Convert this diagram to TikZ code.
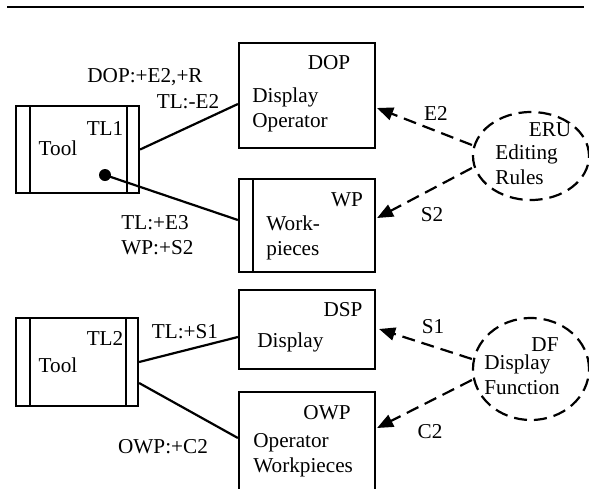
\documentclass[tikz,border=0pt]{standalone}
\usepackage{fontspec}
\setmainfont{Liberation Serif}
\usetikzlibrary{arrows.meta,calc,shapes.geometric,positioning}

\tikzset{
  box/.style={draw, line width=1.1pt, inner sep=0pt, minimum width=68pt},
  bars/.style={path picture={
    \draw[line width=1.1pt] ($(path picture bounding box.north west)+(14,0)$) -- ($(path picture bounding box.south west)+(14,0)$);
    \draw[line width=1.1pt] ($(path picture bounding box.north east)+(-12,0)$) -- ($(path picture bounding box.south east)+(-12,0)$);}},
  lbar/.style={path picture={
    \draw[line width=1.1pt] ($(path picture bounding box.north west)+(14,0)$) -- ($(path picture bounding box.south west)+(14,0)$);}},
  rule/.style={draw, dashed, line width=1.1pt, dash pattern=on 6.5pt off 3.5pt, ellipse, minimum width=58pt, inner sep=0pt},
  link/.style={line width=1.1pt},
  msg/.style={line width=1.1pt, dash pattern=on 6.5pt off 3.5pt, -{Triangle[length=8pt,width=6.5pt]}},
}

\begin{document}
\begin{tikzpicture}[x=0.5pt, y=-0.5pt, every node/.append style={font=\fontsize{10.6}{12.5}\selectfont}]
\useasboundingbox (0,0) rectangle (589,488);

% heading rule
\draw[line width=1.1pt] (7,7) -- (584,7);

% upper part
\node[box, bars, minimum width=61.5pt, minimum height=43.5pt] (TL1) at (77.5,149.5) {};
\node at (105,128) {TL1};
\node at (58,148) {Tool};
\node[circle, fill, inner sep=0pt, minimum size=6pt] (dot) at (105,175) {};

\node[box, minimum height=52.5pt] (DOP) at (307,95.5) {};
\node at (329,63) {DOP};
\node[anchor=west, align=left, inner sep=0pt] at (252,110) {Display\\Operator};

\node[box, lbar, minimum height=46.5pt] (WP) at (307,225.5) {};
\node at (347,200) {WP};
\node[anchor=west, align=left, inner sep=0pt] at (266,238) {Work-\\pieces};

\node[rule, minimum height=44pt] (ERU) at (531,156) {};
\node at (550,130) {ERU};
\node[anchor=west, align=left, inner sep=0pt] at (495,165) {Editing\\Rules};

\draw[link] (TL1.east) -- ($(DOP.west)+(0,8.5)$);
\draw[link] (dot.center) -- ($(WP.west)+(0,-5.5)$);
\node (lDOP) at (145,77) {DOP:+E2,+R};
\node (lTL1) at (188,102) {TL:-E2};
\node[anchor=west, align=left, inner sep=0pt] (lWP) at (121,235) {TL:+E3\\WP:+S2};

\draw[msg] ($(ERU.west)+(0,-11)$) -- ($(DOP.east)+(1,12.5)$);
\draw[msg] ($(ERU.west)+(0,12)$) -- ($(WP.east)+(1,-7.5)$);
\node (lE2) at (436,113) {E2};
\node (lS2) at (432,215) {S2};

% lower part
\node[box, bars, minimum width=61pt, minimum height=44pt] (TL2) at (77,362) {};
\node at (105,338) {TL2};
\node at (58,365) {Tool};

\node[box, minimum height=39.5pt] (DSP) at (307,329.5) {};
\node at (343,310) {DSP};
\node[anchor=west, inner sep=0pt] at (257,342) {Display};

\node[box, minimum height=50pt] (OWP) at (307,442) {};
\node at (327,413) {OWP};
\node[anchor=west, align=left, inner sep=0pt] at (253,455) {Operator\\Workpieces};

\node[rule, minimum height=51pt] (DF) at (531,369) {};
\node at (545,345) {DF};
\node[anchor=west, align=left, inner sep=0pt] at (484,375) {Display\\Function};

\draw[link] (TL2.east) -- ($(DSP.west)+(0,7.5)$);
\draw[link] ($(TL2.east)+(0,21)$) -- ($(OWP.west)+(0,-4)$);
\node (lDSP) at (185,332) {TL:+S1};
\node (lOWP) at (163,447) {OWP:+C2};

\draw[msg] ($(DF.west)+(0,-10)$) -- ($(DSP.east)+(3,-0.5)$);
\draw[msg] ($(DF.west)+(0,11)$) -- ($(OWP.east)+(1,-14)$);
\node (lS1) at (433,327) {S1};
\node (lC2) at (430,432) {C2};
\end{tikzpicture}
\end{document}
